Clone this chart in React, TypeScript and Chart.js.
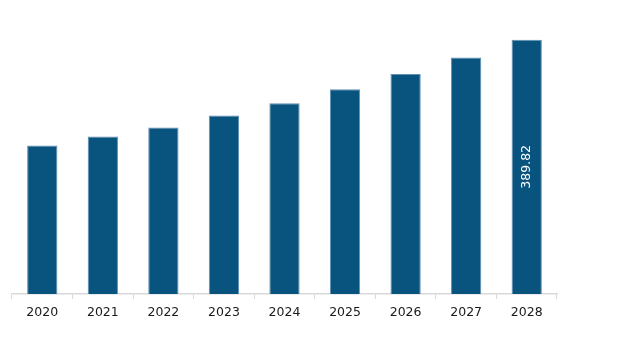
import React, { useEffect, useRef } from "react";
import { Chart, registerables } from "chart.js";

Chart.register(...registerables);

const categories = ["2020", "2021", "2022", "2023", "2024", "2025", "2026", "2027", "2028"];
const values = [227.6, 241.4, 255.1, 273.5, 292.3, 313.8, 337.2, 362.3, 389.82];
const labelledIndex = 8;

const FONT = "'DejaVu Sans', Verdana, sans-serif";

const barLabelPlugin = {
  id: "barLabel",
  afterDatasetsDraw(chart: any) {
    const meta = chart.getDatasetMeta(0);
    const el = meta.data[labelledIndex];
    if (!el) return;
    const ctx = chart.ctx;
    const cx = el.x;
    const cy = (el.y + el.base) / 2;
    ctx.save();
    ctx.translate(cx, cy);
    ctx.rotate(-Math.PI / 2);
    ctx.fillStyle = "#ffffff";
    ctx.font = `12.5px ${FONT}`;
    ctx.textAlign = "center";
    ctx.textBaseline = "middle";
    ctx.fillText(values[labelledIndex].toFixed(2), 0, 0);
    ctx.restore();
  },
};

export default function App() {
  const ref = useRef<HTMLCanvasElement>(null);
  useEffect(() => {
    document.body.style.margin = "0";
    const chart = new Chart(ref.current!, {
      type: "bar",
      data: {
        labels: categories,
        datasets: [
          {
            data: values,
            backgroundColor: "#09537f",
            borderColor: "#5f8fb2",
            borderWidth: { top: 1, left: 1, right: 1, bottom: 0 },
            categoryPercentage: 1,
            barPercentage: 0.5,
          },
        ],
      },
      options: {
        animation: false,
        responsive: false,
        maintainAspectRatio: false,
        layout: { padding: { top: 33, left: 12, right: 60, bottom: 26 } },
        plugins: { legend: { display: false }, tooltip: { enabled: false } },
        scales: {
          x: {
            grid: {
              display: true,
              drawOnChartArea: false,
              drawTicks: true,
              tickLength: 5,
              color: "#d9d9d9",
              offset: true,
            },
            border: { display: true, color: "#d9d9d9", width: 1.5 },
            ticks: {
              color: "#1a1a1a",
              padding: 6,
              font: { size: 12.5, family: FONT },
              maxRotation: 0,
            },
          },
          y: {
            display: false,
            min: 0,
            max: 400,
          },
        },
      },
      plugins: [barLabelPlugin],
    });
    return () => chart.destroy();
  }, []);
  return (
    <div style={{ width: 617, height: 352 }}>
      <canvas ref={ref} width={617} height={352} style={{ width: 617, height: 352, display: "block" }} />
    </div>
  );
}
